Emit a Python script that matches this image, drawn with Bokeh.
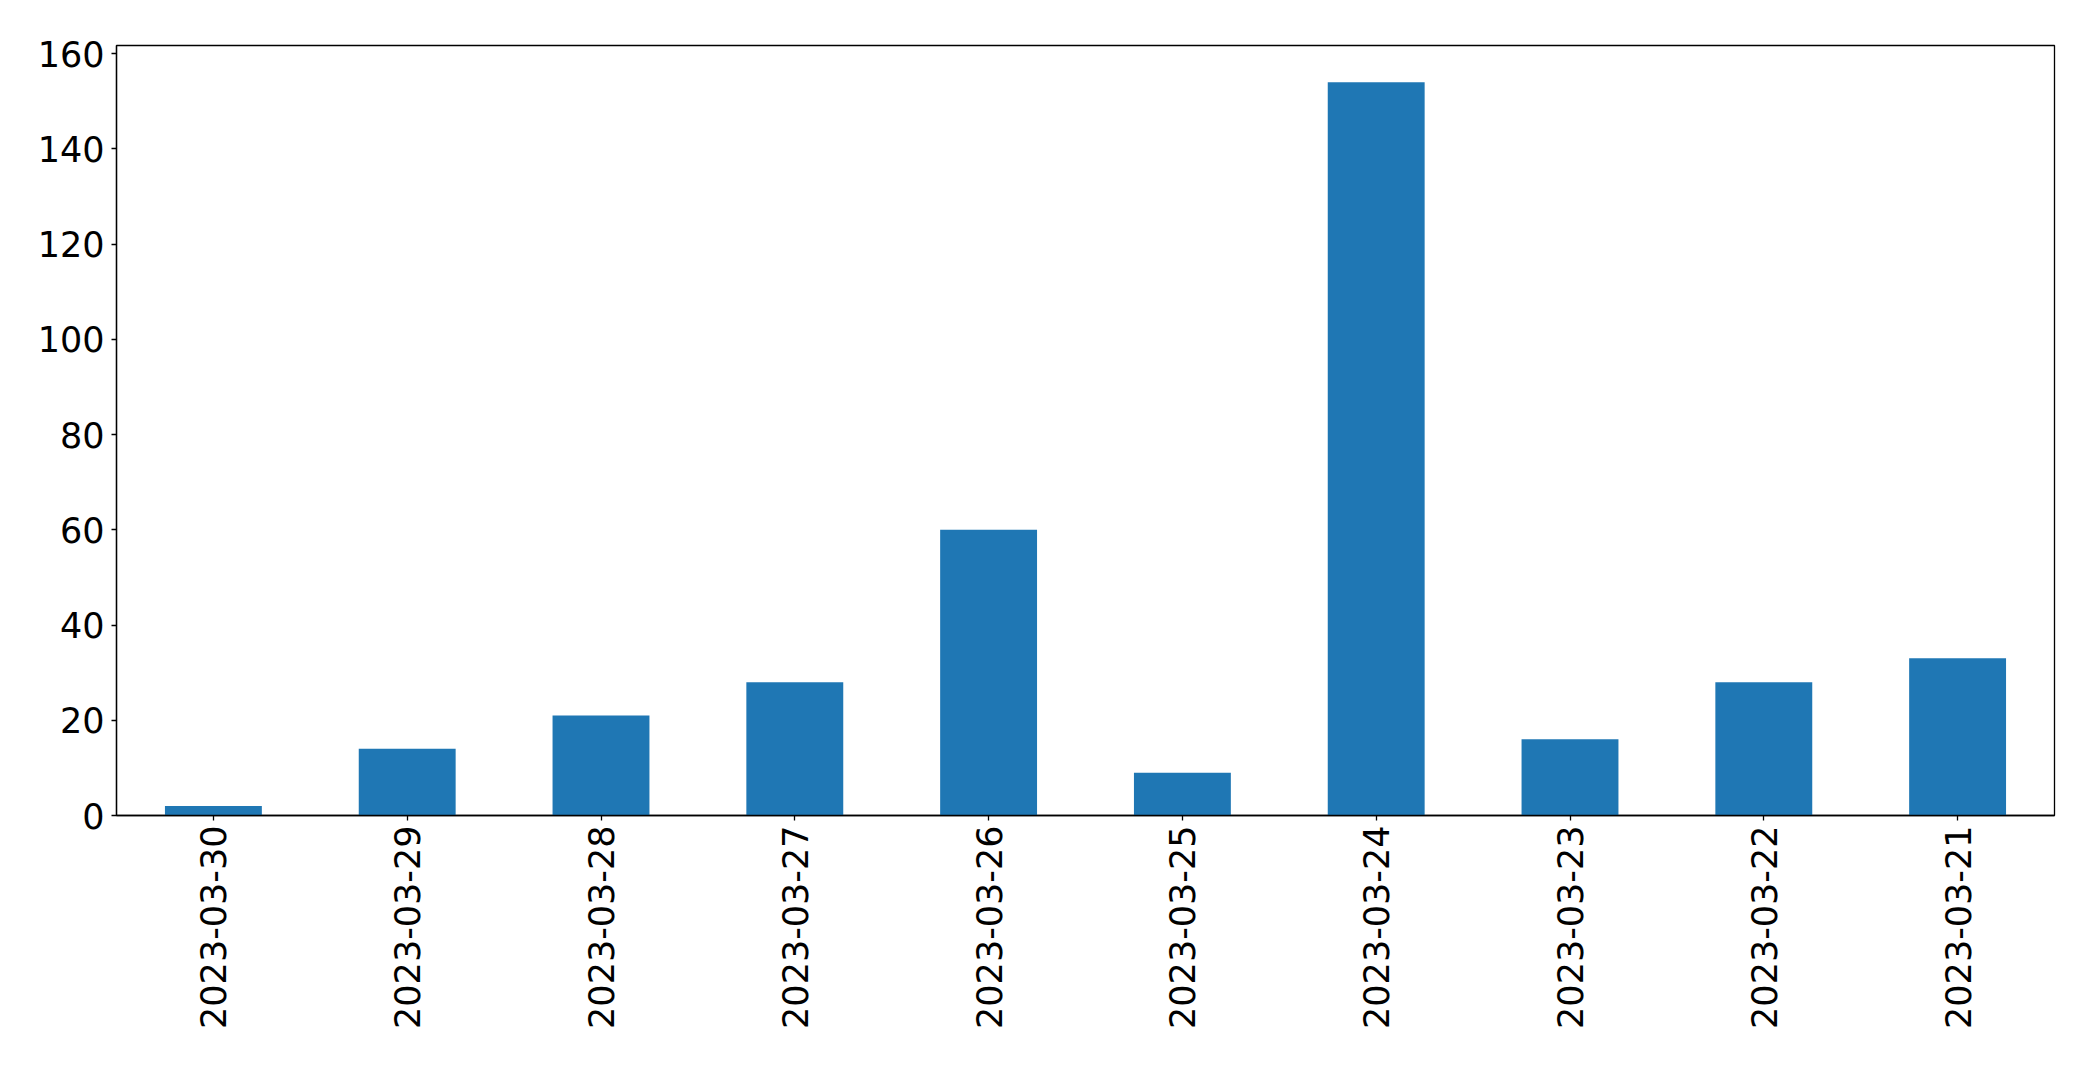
import math
from bokeh.plotting import figure
from bokeh.models import Range1d, FactorRange, FixedTicker
from bokeh.embed import file_html
from bokeh.resources import INLINE

dates = ["2023-03-30", "2023-03-29", "2023-03-28", "2023-03-27", "2023-03-26",
         "2023-03-25", "2023-03-24", "2023-03-23", "2023-03-22", "2023-03-21"]
counts = [2, 14, 21, 28, 60, 9, 154, 16, 28, 33]
y_ticks = [0, 20, 40, 60, 80, 100, 120, 140, 160]

p = figure(width=2077, height=1051, output_backend="svg", toolbar_location=None,
           x_range=FactorRange(factors=dates, range_padding=0),
           y_range=Range1d(0, max(counts) * 1.05),
           frame_width=1938, frame_height=770,
           min_border_left=116, min_border_top=45, min_border_right=23, min_border_bottom=236)

p.vbar(x=dates, top=counts, width=0.5, color="#1f77b4", line_color=None)

p.xgrid.visible = False
p.ygrid.visible = False
p.outline_line_color = "black"
p.outline_line_width = 1.3

for ax in (p.xaxis[0], p.yaxis[0]):
    ax.major_label_text_font = "DejaVu Sans"
    ax.major_label_text_font_size = "35px"
    ax.major_label_text_color = "black"
    ax.axis_line_color = "black"
    ax.axis_line_width = 1.3
    ax.major_tick_line_color = "black"
    ax.major_tick_line_width = 1.3
    ax.major_tick_in = 0
    ax.major_tick_out = 5
    ax.minor_tick_line_color = None
    ax.major_label_standoff = 7

p.yaxis[0].ticker = FixedTicker(ticks=y_ticks)
p.xaxis[0].major_label_orientation = math.pi / 2
p.xaxis[0].major_label_standoff = 5

open("out.html", "w").write(file_html(p, INLINE))
